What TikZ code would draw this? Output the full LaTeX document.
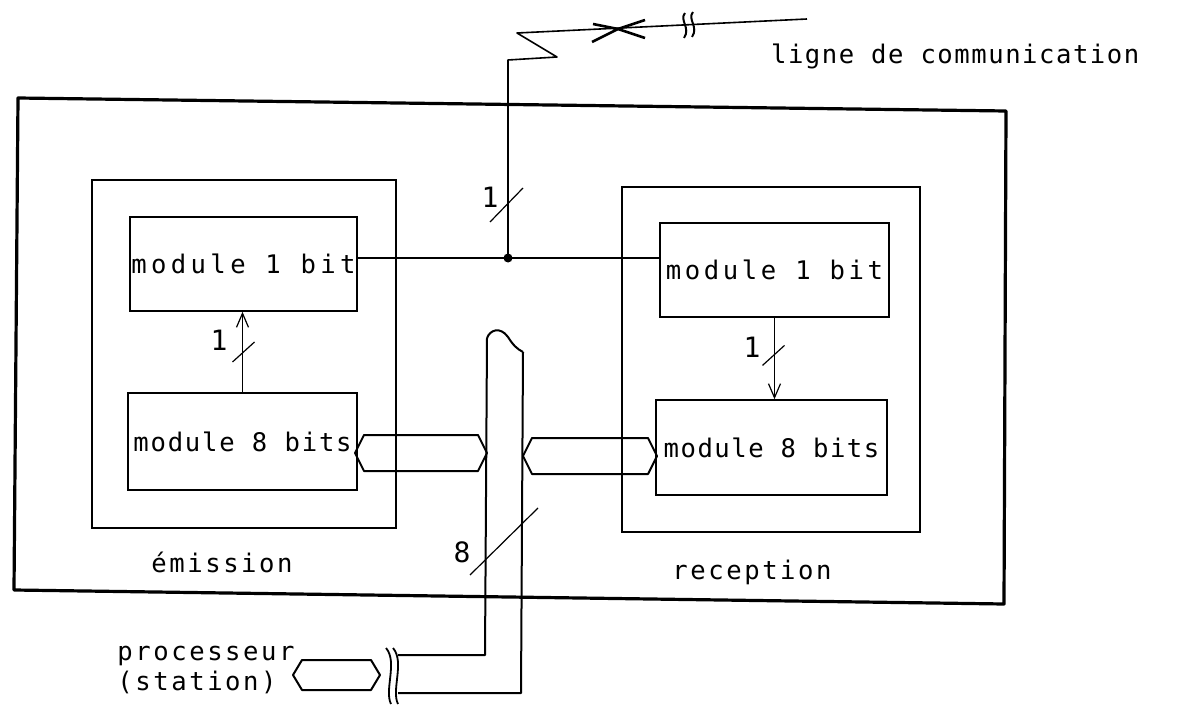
\documentclass[tikz,border=0pt]{standalone}
\usepackage{fontspec}
\setmonofont{DejaVu Sans Mono}[LetterSpace=10]
\usetikzlibrary{arrows.meta,calc}
\newcommand{\hexbus}[3]{%
  \draw[bus] (#1) -- ($(#1)+(9,-#3)$) -- ($(#2)+(-9,-#3)$) -- (#2) -- ($(#2)+(-9,#3)$) -- ($(#1)+(9,#3)$) -- cycle;}
\begin{document}
\begin{tikzpicture}[x=0.5pt,y=-0.5pt,
  every node/.style={font=\fontsize{12.8}{15}\selectfont\ttfamily},
  modbox/.style={draw,line width=0.8pt,inner sep=0pt},
  unitbox/.style={draw,line width=1.1pt,inner sep=0pt},
  wire/.style={line width=0.8pt},
  sig/.style={line width=0.6pt,-{Straight Barb[length=7pt,width=6pt]}},
  tick/.style={line width=0.6pt},
  digit/.style={font=\fontsize{14}{16}\selectfont\ttfamily},
  spaced/.style={font=\fontsize{12.8}{15}\selectfont\ttfamily\addfontfeature{LetterSpace=#1}},
  bus/.style={line width=1pt,line join=round}]
\useasboundingbox (0,0) rectangle (1195,706);
% outer frame
\draw[line width=1.6pt,line join=round] (18,98) -- (1006,111) -- (1004,604) -- (14,590) -- cycle;
% units
\node[unitbox,minimum width=152pt,minimum height=174pt] (em) at (244,354) {};
\node[unitbox,minimum width=149pt,minimum height=172.5pt] (re) at (771,359.5) {};
% modules
\node[modbox,spaced=17,minimum width=113.5pt,minimum height=47pt] (m1L) at (243.5,264) {module 1 bit};
\node[modbox,spaced=7,minimum width=114.5pt,minimum height=48.5pt] (m8L) at (242.5,441.5) {module 8 bits};
\node[modbox,spaced=14,minimum width=114.5pt,minimum height=47pt] (m1R) at (774.5,270) {module 1 bit};
\node[modbox,spaced=6,minimum width=115.5pt,minimum height=47.5pt] (m8R) at (771.5,447.5) {module 8 bits};
% labels
\node (lem) at (222,562) {émission};
\node (lre) at (752,572) {reception};
\node[anchor=west,spaced=6] (lig) at (764,56) {ligne de communication};
\node[anchor=north west,align=left,inner sep=0pt] (proc) at (117,646) {processeur\\(station)};
% internal signal arrows
\draw[sig] (m8L.north) -- (m8L.north |- m1L.south);
\draw[tick] ($(m8L.north)!0.5!(m8L.north |- m1L.south)$) ++(-10,10) -- ++(22,-20);
\node[digit] (d1a) at (219,340) {1};
\draw[sig] (m1R.south) -- (m1R.south |- m8R.north);
\draw[tick] ($(m1R.south)!0.45!(m1R.south |- m8R.north)$) ++(-12,11) -- ++(22,-20);
\node[digit] (d1b) at (752,347) {1};
% communication line
\coordinate (jn) at (508,258);
\draw[wire] (jn -| m1L.east) -- (jn) -- (jn -| m1R.west);
\fill (jn) circle[radius=4.5];
\coordinate (v1) at (508,60);
\coordinate (z1) at (557,57);
\coordinate (z2) at (517,33);
\coordinate (lend) at (807,19);
\draw[wire,line join=round] (jn) -- (v1) -- (z1) -- (z2) -- (lend);
\draw[tick] (490,222) -- (523,188);
\node[digit] (d1c) at (490,197) {1};
% crossing arrows on the line
\coordinate (xm) at (618,29);
\draw[line width=1.3pt] (593,24) -- (xm) -- (592,42);
\draw[line width=1.3pt] (645,20) -- (xm) -- (645,38);
% break on the line
\draw[line width=1pt] (685,13) .. controls (679,20) and (691,28) .. (684,38);
\draw[line width=1pt] (693,12) .. controls (687,19) and (699,27) .. (692,37);
% 8-bit bus
\coordinate (bLt) at (487,338);
\coordinate (bRt) at (523,352);
\coordinate (bLb) at (485,655);
\coordinate (bRb) at (521,693);
\draw[bus] (bLt) .. controls (490,330) and (500,326) .. (508,337) .. controls (513,345) and (517,349) .. (bRt);
\draw[bus] (bLt) -- (bLb) -- (398,655);
\draw[bus] (bRt) -- (bRb) -- (398,693);
\draw[tick] (470,575) -- (538,508);
\node[digit] (d8) at (462,552) {8};
% bus connections
\coordinate (hl1) at (355,453);
\coordinate (hl2) at (487,453);
\hexbus{hl1}{hl2}{18}
\coordinate (hr1) at (523,456);
\coordinate (hr2) at (657,456);
\hexbus{hr1}{hr2}{18}
\coordinate (hp1) at (293,675);
\coordinate (hp2) at (380,675);
\hexbus{hp1}{hp2}{15}
% break on the processor bus
\draw[line width=0.9pt] (386,648) .. controls (398,662) and (384,690) .. (391,704);
\draw[line width=0.9pt] (393,648) .. controls (405,662) and (391,690) .. (398,704);
\end{tikzpicture}
\end{document}
